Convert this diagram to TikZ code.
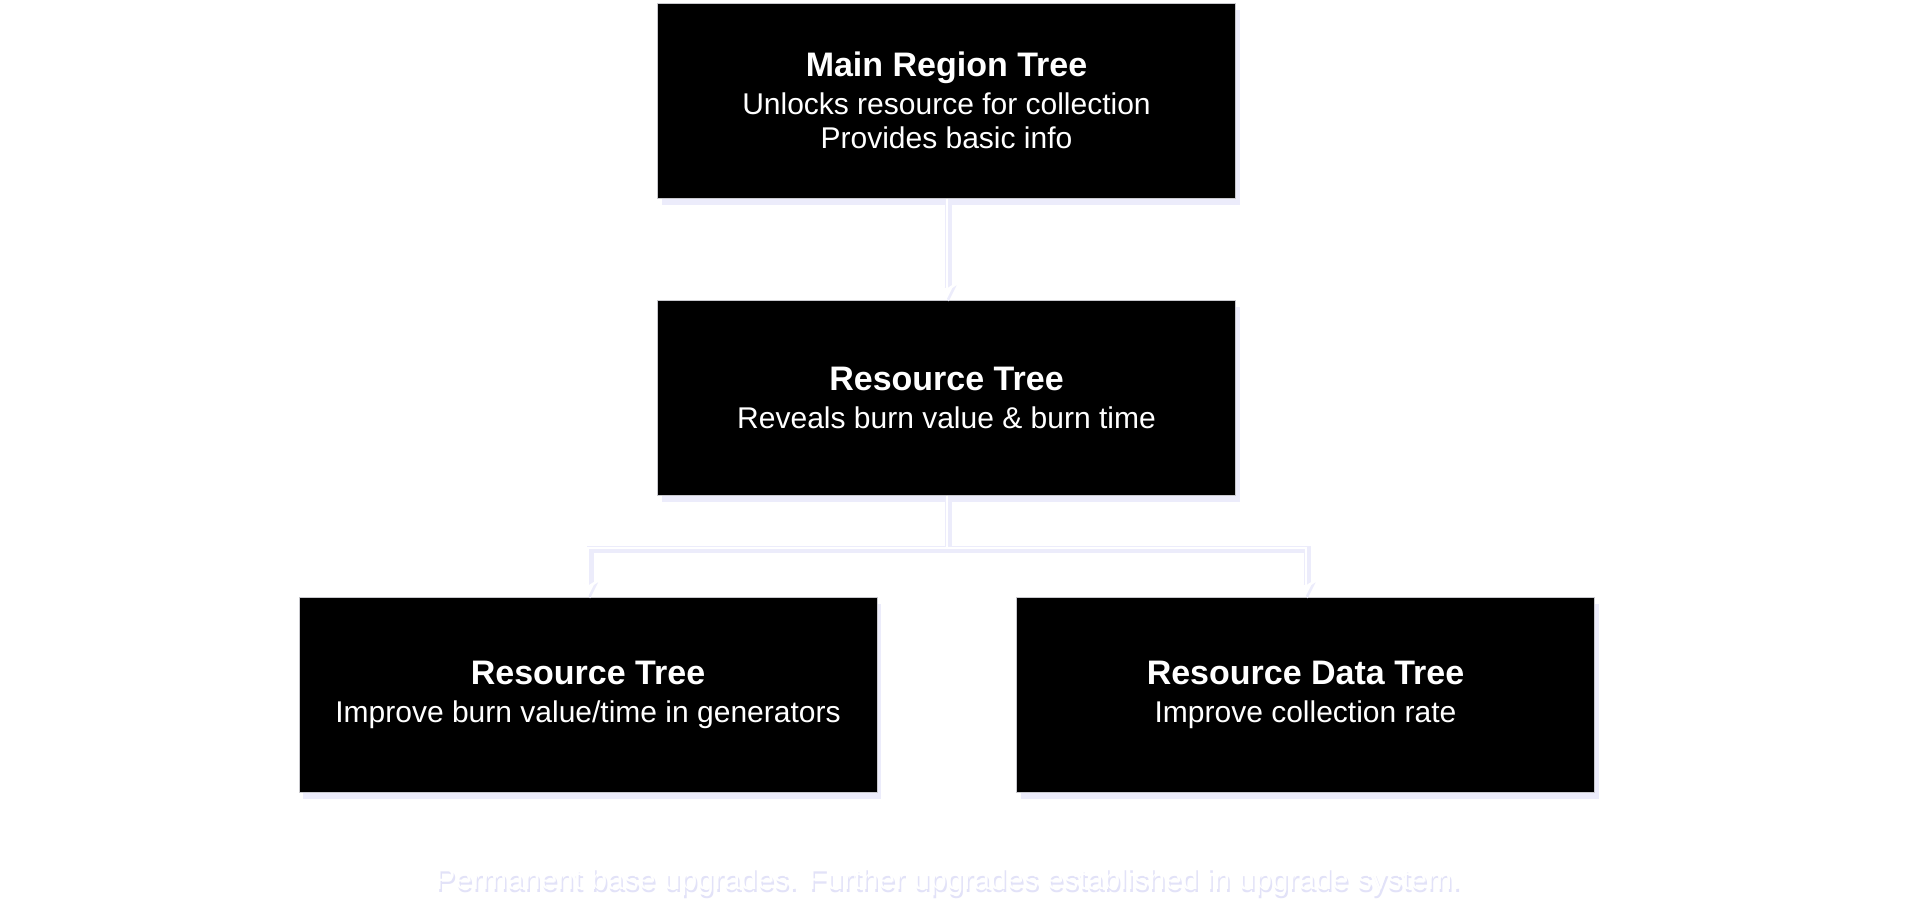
\documentclass[tikz,border=0pt]{standalone}
\usepackage{fontspec}
\setmainfont{Liberation Sans}
\usetikzlibrary{arrows.meta,shadows,positioning}
\definecolor{glow}{RGB}{226,226,248}
\definecolor{glowlite}{RGB}{236,236,251}
\tikzset{
  treebox/.style={rectangle, fill=black, draw={rgb,255:red,200;green,200;blue,205}, line width=1pt,
    text=white, align=center, minimum width=578pt, minimum height=195pt, inner sep=0pt,
    font=\fontsize{30}{34}\selectfont,
    drop shadow={shadow xshift=4pt, shadow yshift=-7pt, fill=glowlite, opacity=1}},
  glowline/.style={draw=glowlite, line width=7pt, transform canvas={shift={(2pt,-2pt)}}},
  linkline/.style={draw=white, line width=2pt},
  tip/.style={-{Stealth[length=16pt,width=16pt]}},
}
\newcommand{\ttl}[1]{{\bfseries\fontsize{34}{34}\selectfont #1}\\[4pt]}
\begin{document}
\begin{tikzpicture}[x=1pt,y=-1pt]
\useasboundingbox[fill=white] (0,0) rectangle (1920,900);
\node[treebox] (top) at (946.5,100.5) {\ttl{Main Region Tree}Unlocks resource for collection\\Provides basic info};
\node[treebox] (mid) at (946.5,397.5) {\ttl{Resource Tree}Reveals burn value \& burn time};
\node[treebox] (bl) at (588,694.5) {\ttl{Resource Tree}Improve burn value/time in generators};
\node[treebox] (br) at (1305.5,694.5) {\ttl{Resource Data Tree}Improve collection rate};
% glow under connectors
\draw[glowline, tip] (top.south) -- (mid.north);
\draw[glowline, tip] (mid.south) -- ++(0,52) -| (bl.north);
\draw[glowline, tip] (mid.south) -- ++(0,52) -| (br.north);
% connectors
\draw[linkline, tip] (top.south) -- (mid.north);
\draw[linkline, tip] (mid.south) -- ++(0,52) -| (bl.north);
\draw[linkline, tip] (mid.south) -- ++(0,52) -| (br.north);
% footnote
\node[text=glow, font=\fontsize{30}{34}\selectfont] (noteshadow) at (949.5,885) {Permanent base upgrades. Further upgrades established in upgrade system.};
\node[text=white, font=\fontsize{30}{34}\selectfont] (note) at (948,882) {Permanent base upgrades. Further upgrades established in upgrade system.};
\end{tikzpicture}
\end{document}
